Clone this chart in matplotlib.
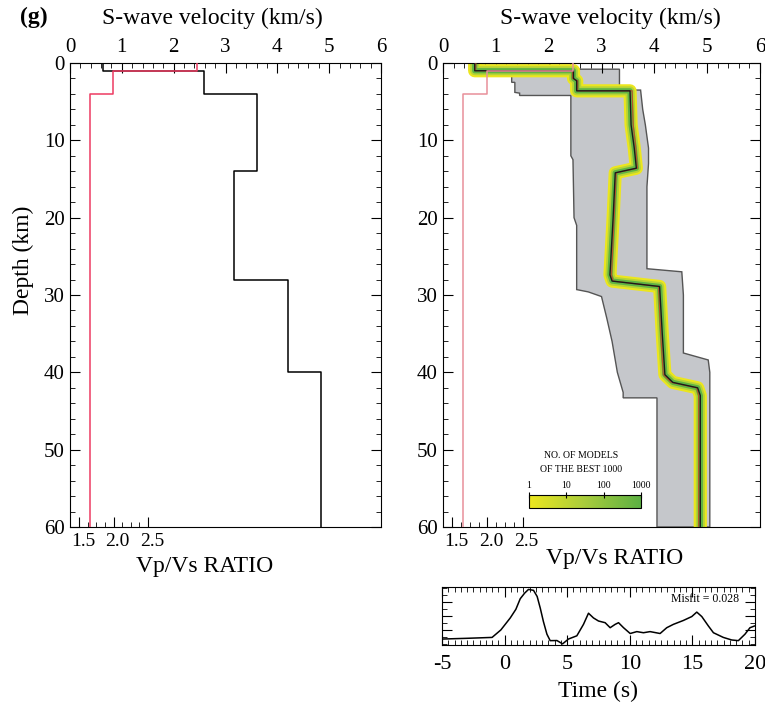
import numpy as np
import matplotlib
matplotlib.use("Agg")
import matplotlib.pyplot as plt
import matplotlib.transforms as mtransforms
from matplotlib.ticker import MultipleLocator
from matplotlib.colors import LinearSegmentedColormap, LogNorm
from matplotlib.cm import ScalarMappable

plt.rcParams['font.family'] = ['Liberation Serif', 'DejaVu Serif']
plt.rcParams['axes.unicode_minus'] = False

# ---- data ----
# left panel: layered S-wave model (layer tops, km) and velocities (km/s)
model_top = [0, 1, 4, 14, 28, 40]
model_vs = [0.63, 2.58, 3.6, 3.17, 4.2, 4.85]
# Vp/Vs ratio layers
ratio_top = [0, 1, 4]
ratio_val = [3.21, 1.99, 1.66]
max_depth = 60

# right panel: envelope of the best 1000 models (vertices vel, depth)
env_lo_vs = [0.5, 0.5, 1.3, 1.3, 1.36, 1.36, 1.45, 1.45, 2.42, 2.42, 2.46, 2.48,
             2.53, 2.53, 2.75, 3.0, 3.1, 3.2, 3.3, 3.41, 3.41, 4.05, 4.05]
env_lo_dep = [0, 1.0, 1.0, 2.5, 2.5, 3.8, 3.9, 4.2, 4.2, 12, 12.5, 20,
              21, 29.3, 29.6, 30.2, 33, 36, 40, 42.6, 43.3, 43.3, 60]
env_hi_vs = [2.03, 2.03, 3.34, 3.34, 3.74, 3.78, 3.83, 3.89, 3.89, 3.86, 3.86,
             4.52, 4.55, 4.55, 5.02, 5.05, 5.05]
env_hi_dep = [0, 0.8, 0.8, 3.5, 3.5, 6, 8, 11, 13, 16, 26.6,
              27.0, 30, 37.5, 38.4, 40, 60]

# best model
best_vs = [0.6, 0.6, 2.47, 2.47, 2.53, 2.53, 3.54, 3.56, 3.62, 3.66, 3.26, 3.22,
           3.16, 3.20, 4.10, 4.15, 4.20, 4.35, 4.82, 4.87, 4.87]
best_dep = [0, 1.0, 1.0, 2.0, 2.3, 3.6, 3.6, 8, 11, 13.6, 14.2, 20,
            27.4, 28.2, 28.9, 35, 40.3, 41.3, 42, 43, 60]
# mean model (brownish red)
mean_vs = [0.62, 0.62, 2.45, 2.45, 2.55, 2.55, 3.58, 3.60, 3.65, 3.68, 3.28, 3.24,
           3.19, 3.22, 4.08, 4.12, 4.17, 4.32, 4.80, 4.84, 4.84]
mean_dep = best_dep

# waveform fit
wave_t = [-4.95, -3.0, -1.0, -0.3, 0.45, 0.9, 1.25, 1.6, 1.91, 2.31, 2.6, 2.85, 3.1,
          3.38, 3.64, 4.18, 4.63, 5.1, 5.77, 6.3, 6.7, 7.1, 7.5, 8.03, 8.43, 8.83,
          9.1, 9.5, 10.03, 10.56, 11.09, 11.62, 12.42, 12.95, 13.48, 14.28, 14.95,
          15.35, 15.75, 16.28, 16.68, 17.47, 18.14, 18.67, 19.2, 19.6, 19.95]
wave_amp = [0.087, 0.10, 0.116, 0.25, 0.465, 0.62, 0.81, 0.91, 0.977, 0.96, 0.85,
            0.64, 0.40, 0.174, 0.058, 0.06, 0.0, 0.087, 0.145, 0.35, 0.55, 0.465,
            0.41, 0.38, 0.29, 0.35, 0.38, 0.29, 0.186, 0.22, 0.2, 0.22, 0.186, 0.29,
            0.35, 0.42, 0.49, 0.57, 0.49, 0.32, 0.2, 0.116, 0.07, 0.058, 0.174,
            0.29, 0.32]
misfit = 0.028

VPVS_MIN = 1.37
VPVS_SPAN = 4.5


def layer_line(tops, vals, bottom):
    edges = list(tops[1:]) + [bottom]
    xs, ys = [], []
    for v, t, b in zip(vals, tops, edges):
        xs += [v, v]
        ys += [t, b]
    return xs, ys


W, H = 765, 708
fig = plt.figure(figsize=(W / 100, H / 100), dpi=100)
label_shift = mtransforms.ScaledTranslation(4 / 100, 0, fig.dpi_scale_trans)


def px_axes(x0, y0, x1, y1):
    return fig.add_axes([x0 / W, 1 - y1 / H, (x1 - x0) / W, (y1 - y0) / H])


def style_profile(ax, title_x, ratio_x, ratio_y):
    # twin first: twiny() moves the parent's ticks to the bottom
    tw = ax.twiny()
    tw.set_xlim(VPVS_MIN, VPVS_MIN + VPVS_SPAN)
    tw.xaxis.set_ticks_position('bottom')
    tw.xaxis.set_label_position('bottom')
    tw.set_xticks([1.5, 2.0, 2.5])
    tw.set_xticklabels(['1.5', '2.0', '2.5'])
    tw.set_xticks(np.arange(1.625, 2.5, 0.125), minor=True)
    tw.tick_params(which='both', direction='in', top=False, bottom=True,
                   labeltop=False, labelbottom=True, labelsize=14, pad=4)
    tw.tick_params(which='major', length=7)
    tw.tick_params(which='minor', length=3.5)
    for lbl in tw.get_xticklabels():
        lbl.set_transform(lbl.get_transform() + label_shift)
    tw.set_xlabel('Vp/Vs RATIO', fontsize=17)
    tw.xaxis.set_label_coords(ratio_x, ratio_y)
    for s in tw.spines.values():
        s.set_visible(False)

    ax.set_xlim(0, 6)
    ax.set_ylim(max_depth, 0)
    ax.xaxis.tick_top()
    ax.set_xticks(range(7))
    ax.xaxis.set_minor_locator(MultipleLocator(0.2))
    ax.set_yticks(range(0, 61, 10))
    ax.yaxis.set_minor_locator(MultipleLocator(2))
    ax.tick_params(which='both', direction='in', top=True, bottom=False,
                   labeltop=True, labelbottom=False,
                   left=True, right=True, labelsize=15, pad=4)
    ax.tick_params(which='major', length=7)
    ax.tick_params(which='minor', length=3.5)
    ax.xaxis.set_label_position('top')
    ax.set_xlabel('S-wave velocity (km/s)', fontsize=17)
    ax.xaxis.set_label_coords(title_x, 1.083)
    return tw


# ---- left panel ----
axL = px_axes(70, 63, 381, 527)
twL = style_profile(axL, 0.457, 0.434, -0.062)
mx, my = layer_line(model_top, model_vs, max_depth)
axL.plot(mx, my, color='black', lw=1.1, zorder=3)
rx, ry = layer_line(ratio_top, ratio_val, max_depth)
twL.plot(rx, ry, color='#ee3b62', lw=1.1)
axL.set_ylabel('Depth (km)', fontsize=17)
axL.yaxis.set_label_coords(-0.115, 0.575)

# ---- right panel ----
axR = px_axes(443, 63, 760, 527)
twR = style_profile(axR, 0.527, 0.54, -0.045)
poly_x = env_lo_vs + env_hi_vs[::-1]
poly_y = env_lo_dep + env_hi_dep[::-1]
axR.fill(poly_x, poly_y, facecolor='#c5c7cb', edgecolor='#555555', lw=1.0, zorder=1)
axR.plot(best_vs, best_dep, color='#ece61e', lw=9.5, solid_joinstyle='round',
         solid_capstyle='butt', zorder=2)
axR.plot(best_vs, best_dep, color='#b6d436', lw=6.5, solid_joinstyle='round',
         solid_capstyle='butt', zorder=2)
axR.plot(best_vs, best_dep, color='#5fb444', lw=3.8, solid_joinstyle='round',
         solid_capstyle='butt', zorder=2)
axR.plot(mean_vs, mean_dep, color='#b5562b', lw=0.9, zorder=3)
axR.plot(best_vs, best_dep, color='#1a1a1a', lw=1.0, zorder=4)
twR.plot(rx, ry, color='#e8909a', lw=1.1)

# colour scale of model counts
cmap = LinearSegmentedColormap.from_list('models', ['#ece61e', '#a8cc3c', '#5cb043'])
axC = px_axes(529, 495, 641, 508)
cb = fig.colorbar(ScalarMappable(norm=LogNorm(1, 1000), cmap=cmap), cax=axC,
                  orientation='horizontal')
cb.set_ticks([1, 10, 100, 1000])
cb.set_ticklabels(['1', '10', '100', '1000'])
cb.ax.xaxis.set_ticks_position('top')
cb.ax.minorticks_off()
cb.ax.tick_params(labelsize=7, direction='inout', length=5, width=0.8, pad=1)
cb.outline.set_linewidth(0.8)
fig.text(581 / W, 1 - 456 / H, 'NO. OF MODELS', ha='center', va='center', fontsize=7)
fig.text(581 / W, 1 - 470 / H, 'OF THE BEST 1000', ha='center', va='center', fontsize=7)

# ---- waveform panel ----
axW = px_axes(442, 587, 755, 645)
axW.plot(wave_t, wave_amp, color='black', lw=1.1)
axW.set_xlim(-5, 20)
axW.set_ylim(-0.02, 1.02)
axW.set_xticks([-5, 0, 5, 10, 15, 20])
axW.xaxis.set_minor_locator(MultipleLocator(0.5))
axW.set_yticks([0.25, 0.5, 0.75])
axW.yaxis.set_minor_locator(MultipleLocator(0.125))
axW.set_yticklabels([])
axW.tick_params(which='both', direction='in', top=True, right=True, labelsize=16, pad=7)
axW.tick_params(which='major', length=7)
axW.tick_params(which='minor', length=3.5)
axW.set_xlabel('Time (s)', fontsize=17)
axW.xaxis.set_label_coords(0.5, -0.62)
axW.text(0.84, 0.8, 'Misfit = %.3f' % misfit, transform=axW.transAxes,
         ha='center', va='center', fontsize=8.5)

fig.text(20 / W, 1 - 7 / H, '(g)', fontsize=17, fontweight='bold', va='top', ha='left')

fig.savefig('out.png', dpi=100)
